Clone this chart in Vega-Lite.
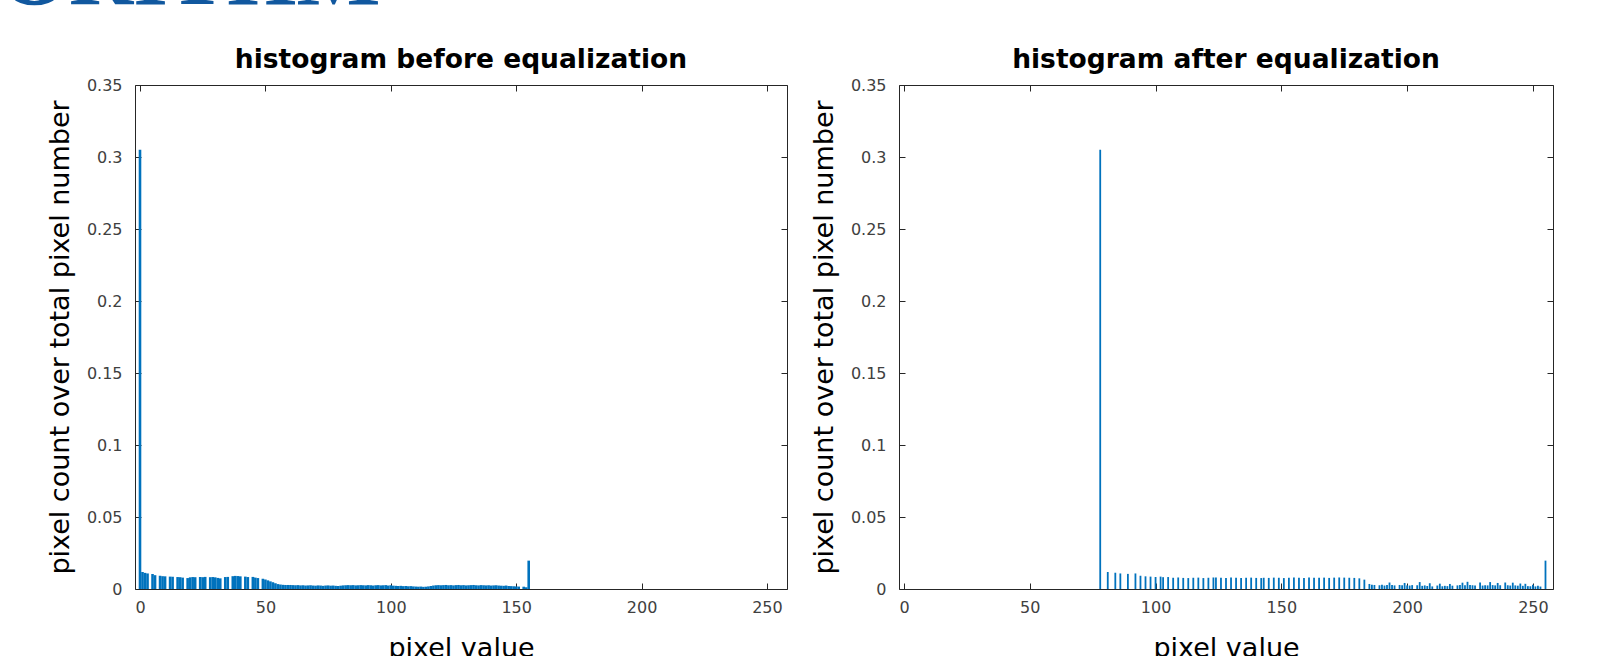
{
  "$schema": "https://vega.github.io/schema/vega-lite/v6.json",
  "background": "white",
  "padding": {"left": -194, "top": -67, "right": 0, "bottom": 0},
  "title": {"text": "ALGORITHM", "font": "Liberation Serif", "fontSize": 89, "fontWeight": "bold", "color": "#11589f", "anchor": "start", "frame": "bounds", "dx": -239, "baseline": "alphabetic", "offset": -47},
  "spacing": 21,
  "config": {
    "view": {"stroke": "#262626", "strokeWidth": 1},
    "font": "DejaVu Sans",
    "title": {"font": "DejaVu Sans", "fontSize": 26.5, "fontWeight": "bold", "color": "#000000", "baseline": "alphabetic", "offset": 0},
    "axis": {"domain": false, "grid": false, "tickSize": -6, "tickColor": "#262626", "labelFont": "DejaVu Sans", "labelFontSize": 16, "labelColor": "#404040", "titleFont": "DejaVu Sans", "titleFontSize": 27, "titleFontWeight": "normal", "titleColor": "#000000"},
    "axisX": {"labelPadding": 16, "titlePadding": 20},
    "axisY": {"labelPadding": 19, "titlePadding": 12}
  },
  "hconcat": [
    {
      "width": 652, "height": 504,
      "title": "histogram before equalization",
      "data": {"values": [
        {"bin": 0, "p": 0.305}, {"bin": 1, "p": 0.0118}, {"bin": 2, "p": 0.0112}, {"bin": 3, "p": 0.0108}, {"bin": 5, "p": 0.0104}, {"bin": 6, "p": 0.0096}, {"bin": 8, "p": 0.0092}, {"bin": 9, "p": 0.0089}, {"bin": 10, "p": 0.0088}, {"bin": 12, "p": 0.0086}, {"bin": 13, "p": 0.0085}, {"bin": 15, "p": 0.0083}, {"bin": 16, "p": 0.0082}, {"bin": 17, "p": 0.0079}, {"bin": 19, "p": 0.0076}, {"bin": 20, "p": 0.0081}, {"bin": 21, "p": 0.0083}, {"bin": 22, "p": 0.0082}, {"bin": 24, "p": 0.0083}, {"bin": 25, "p": 0.0082}, {"bin": 26, "p": 0.0084}, {"bin": 28, "p": 0.0082}, {"bin": 29, "p": 0.0083}, {"bin": 30, "p": 0.0081}, {"bin": 31, "p": 0.0077}, {"bin": 32, "p": 0.0074}, {"bin": 34, "p": 0.0083}, {"bin": 35, "p": 0.0084}, {"bin": 37, "p": 0.0089}, {"bin": 38, "p": 0.0091}, {"bin": 39, "p": 0.009}, {"bin": 40, "p": 0.0088}, {"bin": 42, "p": 0.0086}, {"bin": 43, "p": 0.0083}, {"bin": 45, "p": 0.0084}, {"bin": 46, "p": 0.0079}, {"bin": 47, "p": 0.0076}, {"bin": 49, "p": 0.0072}, {"bin": 50, "p": 0.0066}, {"bin": 51, "p": 0.006}, {"bin": 52, "p": 0.0053}, {"bin": 53, "p": 0.0047}, {"bin": 54, "p": 0.004}, {"bin": 55, "p": 0.0034}, {"bin": 56, "p": 0.0031}, {"bin": 57, "p": 0.0029}, {"bin": 58, "p": 0.0028}, {"bin": 59, "p": 0.0028},
        {"bin": 60, "p": 0.0028}, {"bin": 61, "p": 0.0027}, {"bin": 62, "p": 0.0026}, {"bin": 63, "p": 0.0027}, {"bin": 64, "p": 0.0025}, {"bin": 65, "p": 0.0026}, {"bin": 66, "p": 0.0024}, {"bin": 67, "p": 0.0025}, {"bin": 68, "p": 0.0026}, {"bin": 69, "p": 0.0024}, {"bin": 70, "p": 0.0023}, {"bin": 71, "p": 0.0025}, {"bin": 72, "p": 0.0024}, {"bin": 73, "p": 0.0022}, {"bin": 74, "p": 0.0024}, {"bin": 75, "p": 0.0025}, {"bin": 76, "p": 0.0023}, {"bin": 77, "p": 0.0024}, {"bin": 78, "p": 0.0022}, {"bin": 79, "p": 0.0021},
        {"bin": 80, "p": 0.0023}, {"bin": 81, "p": 0.0025}, {"bin": 82, "p": 0.0026}, {"bin": 83, "p": 0.0027}, {"bin": 84, "p": 0.0026}, {"bin": 85, "p": 0.0027}, {"bin": 86, "p": 0.0025}, {"bin": 87, "p": 0.0026}, {"bin": 88, "p": 0.0027}, {"bin": 89, "p": 0.0026}, {"bin": 90, "p": 0.0025}, {"bin": 91, "p": 0.0027}, {"bin": 92, "p": 0.0026}, {"bin": 93, "p": 0.0024}, {"bin": 94, "p": 0.0026}, {"bin": 95, "p": 0.0027}, {"bin": 96, "p": 0.0025}, {"bin": 97, "p": 0.0026}, {"bin": 98, "p": 0.0027}, {"bin": 99, "p": 0.0024},
        {"bin": 100, "p": 0.0026}, {"bin": 101, "p": 0.0023}, {"bin": 102, "p": 0.0022}, {"bin": 103, "p": 0.0021}, {"bin": 104, "p": 0.0022}, {"bin": 105, "p": 0.002}, {"bin": 106, "p": 0.0021}, {"bin": 107, "p": 0.0019}, {"bin": 108, "p": 0.002}, {"bin": 109, "p": 0.0018}, {"bin": 110, "p": 0.0017}, {"bin": 111, "p": 0.0016}, {"bin": 112, "p": 0.0017}, {"bin": 113, "p": 0.0015}, {"bin": 114, "p": 0.0016}, {"bin": 115, "p": 0.0018}, {"bin": 116, "p": 0.0021}, {"bin": 117, "p": 0.0024}, {"bin": 118, "p": 0.0026}, {"bin": 119, "p": 0.0027},
        {"bin": 120, "p": 0.0026}, {"bin": 121, "p": 0.0027}, {"bin": 122, "p": 0.0028}, {"bin": 123, "p": 0.0026}, {"bin": 124, "p": 0.0027}, {"bin": 125, "p": 0.0025}, {"bin": 126, "p": 0.0027}, {"bin": 127, "p": 0.0028}, {"bin": 128, "p": 0.0026}, {"bin": 129, "p": 0.0027}, {"bin": 130, "p": 0.0025}, {"bin": 131, "p": 0.0026}, {"bin": 132, "p": 0.0027}, {"bin": 133, "p": 0.0028}, {"bin": 134, "p": 0.0026}, {"bin": 135, "p": 0.0025}, {"bin": 136, "p": 0.0027}, {"bin": 137, "p": 0.0026}, {"bin": 138, "p": 0.0025}, {"bin": 139, "p": 0.0026},
        {"bin": 140, "p": 0.0024}, {"bin": 141, "p": 0.0025}, {"bin": 142, "p": 0.0026}, {"bin": 143, "p": 0.0024}, {"bin": 144, "p": 0.0023}, {"bin": 145, "p": 0.0022}, {"bin": 146, "p": 0.0024}, {"bin": 147, "p": 0.0021}, {"bin": 148, "p": 0.002}, {"bin": 149, "p": 0.0019}, {"bin": 150, "p": 0.0018}, {"bin": 151, "p": 0.0017}, {"bin": 153, "p": 0.0016}, {"bin": 154, "p": 0.0012}, {"bin": 155, "p": 0.0197}
      ]},
      "layer": [
        {
          "mark": {"type": "bar", "size": 2.6, "color": "#0072bd", "clip": true},
          "encoding": {
            "x": {"field": "bin", "type": "quantitative", "scale": {"domain": [0, 256], "nice": false, "zero": false}, "axis": {"values": [0, 50, 100, 150, 200, 250], "title": "pixel value"}},
            "y": {"field": "p", "type": "quantitative", "scale": {"domain": [0, 0.35], "nice": false}, "axis": {"values": [0, 0.05, 0.1, 0.15, 0.2, 0.25, 0.3, 0.35], "format": "~g", "title": "pixel count over total pixel number"}}
          }
        },
        {
          "mark": {"type": "point", "opacity": 0},
          "encoding": {
            "x": {"field": "bin", "type": "quantitative", "axis": {"values": [0, 50, 100, 150, 200, 250], "labels": false, "title": null, "orient": "top"}},
            "y": {"field": "p", "type": "quantitative", "axis": {"values": [0, 0.05, 0.1, 0.15, 0.2, 0.25, 0.3, 0.35], "labels": false, "title": null, "orient": "right"}}
          }
        }
      ],
      "resolve": {"axis": {"x": "independent", "y": "independent"}}
    },
    {
      "width": 654, "height": 504,
      "title": "histogram after equalization",
      "data": {"values": [
        {"bin": 78, "p": 0.305}, {"bin": 81, "p": 0.0118}, {"bin": 84, "p": 0.0113}, {"bin": 86, "p": 0.0108}, {"bin": 89, "p": 0.0105}, {"bin": 92, "p": 0.0108}, {"bin": 94, "p": 0.0092}, {"bin": 96, "p": 0.0088}, {"bin": 98, "p": 0.0086}, {"bin": 100, "p": 0.0084}, {"bin": 102, "p": 0.0086}, {"bin": 103, "p": 0.0082}, {"bin": 105, "p": 0.0083}, {"bin": 107, "p": 0.0078}, {"bin": 109, "p": 0.008}, {"bin": 111, "p": 0.0077}, {"bin": 113, "p": 0.0076}, {"bin": 115, "p": 0.0078}, {"bin": 117, "p": 0.0079}, {"bin": 119, "p": 0.0076}, {"bin": 121, "p": 0.0078}, {"bin": 123, "p": 0.008}, {"bin": 124, "p": 0.0079}, {"bin": 126, "p": 0.0078}, {"bin": 128, "p": 0.0077}, {"bin": 130, "p": 0.0079}, {"bin": 132, "p": 0.0078}, {"bin": 134, "p": 0.0076}, {"bin": 136, "p": 0.0078}, {"bin": 138, "p": 0.0079}, {"bin": 140, "p": 0.0077}, {"bin": 142, "p": 0.0076}, {"bin": 143, "p": 0.0078}, {"bin": 145, "p": 0.0077}, {"bin": 147, "p": 0.0079}, {"bin": 149, "p": 0.0078}, {"bin": 151, "p": 0.0076}, {"bin": 153, "p": 0.0078}, {"bin": 155, "p": 0.0079}, {"bin": 157, "p": 0.0078}, {"bin": 159, "p": 0.0077}, {"bin": 161, "p": 0.0079}, {"bin": 163, "p": 0.0078}, {"bin": 165, "p": 0.0078}, {"bin": 167, "p": 0.0079}, {"bin": 169, "p": 0.0077}, {"bin": 171, "p": 0.0079}, {"bin": 173, "p": 0.008}, {"bin": 175, "p": 0.0079}, {"bin": 177, "p": 0.0078}, {"bin": 179, "p": 0.0077}, {"bin": 181, "p": 0.0074}, {"bin": 183, "p": 0.0065},
        {"bin": 185, "p": 0.0035}, {"bin": 186, "p": 0.003}, {"bin": 187, "p": 0.0028}, {"bin": 189, "p": 0.0026}, {"bin": 190, "p": 0.0029}, {"bin": 191, "p": 0.0024}, {"bin": 192, "p": 0.0027}, {"bin": 193, "p": 0.0045}, {"bin": 194, "p": 0.0027}, {"bin": 195, "p": 0.0025}, {"bin": 197, "p": 0.0028}, {"bin": 198, "p": 0.0026}, {"bin": 199, "p": 0.0042}, {"bin": 200, "p": 0.0025}, {"bin": 201, "p": 0.0024}, {"bin": 202, "p": 0.0027}, {"bin": 204, "p": 0.0026}, {"bin": 205, "p": 0.0048}, {"bin": 206, "p": 0.0022}, {"bin": 207, "p": 0.0025}, {"bin": 208, "p": 0.0021}, {"bin": 209, "p": 0.004}, {"bin": 210, "p": 0.0018}, {"bin": 212, "p": 0.0024}, {"bin": 213, "p": 0.0037}, {"bin": 214, "p": 0.0019}, {"bin": 215, "p": 0.0022}, {"bin": 216, "p": 0.002}, {"bin": 217, "p": 0.0035}, {"bin": 218, "p": 0.0023}, {"bin": 220, "p": 0.0025}, {"bin": 221, "p": 0.0027}, {"bin": 222, "p": 0.0044}, {"bin": 223, "p": 0.0026}, {"bin": 224, "p": 0.005}, {"bin": 225, "p": 0.0028}, {"bin": 226, "p": 0.0026}, {"bin": 227, "p": 0.0025}, {"bin": 229, "p": 0.0046}, {"bin": 230, "p": 0.0024}, {"bin": 231, "p": 0.0026}, {"bin": 232, "p": 0.0025}, {"bin": 233, "p": 0.0048}, {"bin": 234, "p": 0.0027}, {"bin": 235, "p": 0.0025}, {"bin": 236, "p": 0.0042}, {"bin": 237, "p": 0.0026}, {"bin": 239, "p": 0.0045}, {"bin": 240, "p": 0.0026}, {"bin": 241, "p": 0.0024}, {"bin": 242, "p": 0.0044}, {"bin": 243, "p": 0.0025}, {"bin": 244, "p": 0.0023}, {"bin": 245, "p": 0.0038}, {"bin": 246, "p": 0.0022}, {"bin": 247, "p": 0.0036}, {"bin": 248, "p": 0.002}, {"bin": 249, "p": 0.0019}, {"bin": 250, "p": 0.003}, {"bin": 251, "p": 0.0018}, {"bin": 252, "p": 0.0022}, {"bin": 253, "p": 0.0017}, {"bin": 255, "p": 0.0197}
      ]},
      "layer": [
        {
          "mark": {"type": "bar", "size": 1.8, "color": "#0072bd", "clip": true},
          "encoding": {
            "x": {"field": "bin", "type": "quantitative", "scale": {"domain": [0, 256], "nice": false, "zero": false}, "axis": {"values": [0, 50, 100, 150, 200, 250], "title": "pixel value"}},
            "y": {"field": "p", "type": "quantitative", "scale": {"domain": [0, 0.35], "nice": false}, "axis": {"values": [0, 0.05, 0.1, 0.15, 0.2, 0.25, 0.3, 0.35], "format": "~g", "title": "pixel count over total pixel number"}}
          }
        },
        {
          "mark": {"type": "point", "opacity": 0},
          "encoding": {
            "x": {"field": "bin", "type": "quantitative", "axis": {"values": [0, 50, 100, 150, 200, 250], "labels": false, "title": null, "orient": "top"}},
            "y": {"field": "p", "type": "quantitative", "axis": {"values": [0, 0.05, 0.1, 0.15, 0.2, 0.25, 0.3, 0.35], "labels": false, "title": null, "orient": "right"}}
          }
        }
      ],
      "resolve": {"axis": {"x": "independent", "y": "independent"}}
    }
  ]
}
